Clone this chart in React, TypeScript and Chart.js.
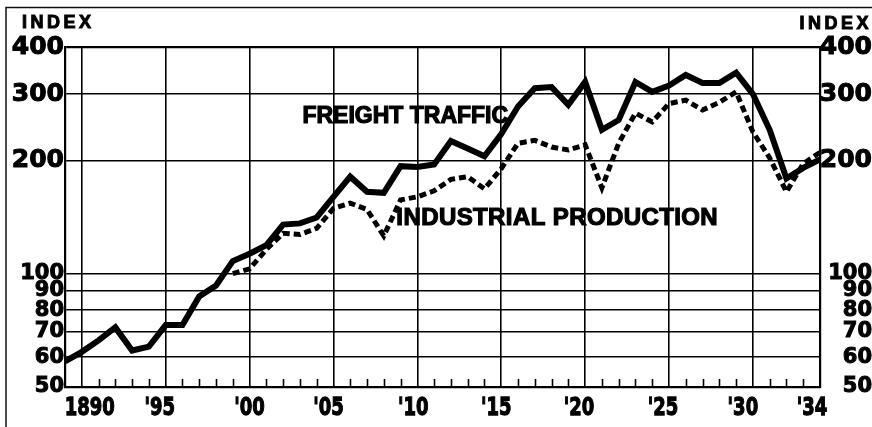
import React, { useEffect, useRef } from 'react';
import { Chart, registerables } from 'chart.js';

Chart.register(...registerables);

// ---------- data ----------
const years = [
  1889, 1890, 1891, 1892, 1893, 1894, 1895, 1896, 1897, 1898,
  1899, 1900, 1901, 1902, 1903, 1904, 1905, 1906, 1907, 1908,
  1909, 1910, 1911, 1912, 1913, 1914, 1915, 1916, 1917, 1918,
  1919, 1920, 1921, 1922, 1923, 1924, 1925, 1926, 1927, 1928,
  1929, 1930, 1931, 1932, 1933, 1934,
];

const freightTraffic = [
  58.5, 62, 66.5, 72, 62.5, 64, 73, 73, 87, 93,
  108, 113, 119, 135, 136, 141, 160, 181, 165, 164,
  193, 192, 195, 225, 215, 205, 235, 278, 311, 313,
  281, 323, 241, 256, 323, 304, 316, 337, 321, 321,
  342, 300, 241, 179, 191, 201,
];

const industrialProduction = [
  null, null, null, null, null, null, null, null, null, null,
  100, 103, 116, 128, 127, 132, 149, 154, 148, 126,
  157, 160, 166, 178, 181, 168, 190, 222, 226, 217,
  213, 220, 169, 222, 267, 253, 283, 289, 272, 285,
  304, 238, 203, 165, 196, 210,
];

const yTickValues = [50, 60, 70, 80, 90, 100, 200, 300, 400];
const xLabelYears = [1890, 1895, 1900, 1905, 1910, 1915, 1920, 1925, 1930, 1934];
const xLabelTexts = ['1890', "'95", "'00", "'05", "'10", "'15", "'20", "'25", "'30", "'34"];

const seriesLabels = ['FREIGHT TRAFFIC', 'INDUSTRIAL PRODUCTION'];
const axisTitle = 'INDEX';

// ---------- layout / styles ----------
// small horizontal nudges of the year labels (px), as in the hand-lettered original
const xLabelNudge = [8, -6, 0, -5, -4, -5, -6, -6, -10, -8];
// annotation anchors (in data units)
const freightLabelAt = { x: 1903.15, y: 262 };
const industrialLabelAt = { x: 1908.75, y: 140 };

const NUM_FONT = '"DejaVu Sans", "Liberation Sans", sans-serif';
const TXT_FONT = '"Liberation Sans", Arial, sans-serif';
const INK = '#000';

const decorPlugin = {
  id: 'decor',
  beforeDraw(chart: any) {
    const ctx = chart.ctx;
    ctx.save();
    ctx.strokeStyle = '#111';
    ctx.lineWidth = 1.5;
    ctx.beginPath();
    ctx.moveTo(6, 427);
    ctx.lineTo(6, 7.5);
    ctx.lineTo(872, 7.5);
    ctx.stroke();
    ctx.restore();
  },
  afterDatasetsDraw(chart: any) {
    const ctx = chart.ctx;
    const xs = chart.scales.x;
    const ys = chart.scales.y;
    const area = chart.chartArea;
    ctx.save();
    // minor year ticks (inward from bottom)
    ctx.strokeStyle = INK;
    ctx.lineWidth = 1.6;
    years.forEach((yr) => {
      if (yr === years[0] || yr === years[years.length - 1] || yr % 5 === 0) return;
      const px = Math.round(xs.getPixelForValue(yr)) + 0.5;
      ctx.beginPath();
      ctx.moveTo(px, area.bottom);
      ctx.lineTo(px, area.bottom - 8);
      ctx.stroke();
    });

    // series annotations
    ctx.fillStyle = INK;
    ctx.strokeStyle = INK;
    ctx.textBaseline = 'middle';
    ctx.textAlign = 'left';
    ctx.lineWidth = 1.2;
    ctx.font = `bold 23px ${TXT_FONT}`;
    (ctx as any).letterSpacing = '0px';
    let px = xs.getPixelForValue(freightLabelAt.x);
    let py = ys.getPixelForValue(freightLabelAt.y);
    ctx.fillText(seriesLabels[0], px, py);
    ctx.strokeText(seriesLabels[0], px, py);

    ctx.font = `bold 24px ${TXT_FONT}`;
    (ctx as any).letterSpacing = '0.4px';
    px = xs.getPixelForValue(industrialLabelAt.x);
    py = ys.getPixelForValue(industrialLabelAt.y);
    ctx.fillText(seriesLabels[1], px, py);
    ctx.strokeText(seriesLabels[1], px, py);
    ctx.restore();
  },
  afterDraw(chart: any) {
    const ctx = chart.ctx;
    const xs = chart.scales.x;
    const area = chart.chartArea;
    ctx.save();
    ctx.fillStyle = INK;
    ctx.strokeStyle = INK;

    // year labels (tall, condensed lettering)
    ctx.font = `bold 18px ${NUM_FONT}`;
    ctx.textAlign = 'center';
    ctx.textBaseline = 'middle';
    ctx.lineWidth = 0.9;
    xLabelYears.forEach((yr, i) => {
      const cx = xs.getPixelForValue(yr) + xLabelNudge[i];
      ctx.save();
      ctx.translate(cx, area.bottom + 21);
      ctx.scale(1, 1.4);
      ctx.fillText(xLabelTexts[i], 0, 0);
      ctx.strokeText(xLabelTexts[i], 0, 0);
      ctx.restore();
    });

    // INDEX titles
    ctx.lineWidth = 1;
    ctx.font = `bold 18px ${TXT_FONT}`;
    (ctx as any).letterSpacing = '3.5px';
    ctx.textBaseline = 'alphabetic';
    ctx.textAlign = 'left';
    ctx.fillText(axisTitle, 22, 28);
    ctx.strokeText(axisTitle, 22, 28);
    ctx.textAlign = 'right';
    ctx.fillText(axisTitle, 872, 29);
    ctx.strokeText(axisTitle, 872, 29);
    ctx.restore();
  },
};

const yTickFont = (c: any) => ({
  family: NUM_FONT,
  weight: 'bold' as const,
  size: c.tick && c.tick.value >= 200 ? 25 : 21,
});

export default function App() {
  const ref = useRef<HTMLCanvasElement>(null);

  useEffect(() => {
    if (!ref.current) return;
    const chart = new Chart(ref.current, {
      type: 'line',
      data: {
        datasets: [
          {
            label: seriesLabels[0],
            data: years.map((x, i) => ({ x, y: freightTraffic[i] })),
            borderColor: INK,
            borderWidth: 6,
            pointRadius: 0,
            tension: 0,
            fill: false,
            borderJoinStyle: 'miter',
          },
          {
            label: seriesLabels[1],
            data: years.map((x, i) => ({ x, y: industrialProduction[i] })) as any,
            borderColor: INK,
            borderWidth: 5,
            borderDash: [7, 4],
            borderCapStyle: 'butt',
            pointRadius: 0,
            tension: 0,
            fill: false,
            borderJoinStyle: 'miter',
          },
        ],
      },
      options: {
        animation: false,
        responsive: false,
        devicePixelRatio: 1,
        layout: { padding: { top: 47, left: 0, right: 0, bottom: 0 } },
        plugins: { legend: { display: false }, tooltip: { enabled: false } },
        scales: {
          x: {
            type: 'linear',
            min: years[0],
            max: years[years.length - 1],
            afterBuildTicks: (s: any) => {
              s.ticks = years.map((v) => ({ value: v }));
            },
            afterFit: (s: any) => {
              s.height = 40;
            },
            grid: {
              color: (c: any) => (c.tick && c.tick.value % 5 === 0 ? INK : 'rgba(0,0,0,0)'),
              lineWidth: 1.6,
              drawTicks: false,
            },
            border: { display: true, color: INK, width: 2.2 },
            ticks: {
              display: false,
              autoSkip: false,
              maxRotation: 0,
              minRotation: 0,
            },
          },
          y: {
            type: 'logarithmic',
            position: 'left',
            min: 50,
            max: 400,
            afterBuildTicks: (s: any) => {
              s.ticks = yTickValues.map((v) => ({ value: v }));
            },
            afterFit: (s: any) => {
              s.width = 65;
            },
            grid: {
              color: INK,
              lineWidth: (c: any) => (c.tick && c.tick.value === 400 ? 2.2 : 1.6),
              drawTicks: false,
            },
            border: { display: true, color: INK, width: 2.2 },
            ticks: {
              padding: 1,
              color: INK,
              textStrokeColor: INK,
              textStrokeWidth: 1,
              font: yTickFont as any,
              callback: (v: any) => String(v),
            },
          },
          y2: {
            type: 'logarithmic',
            position: 'right',
            min: 50,
            max: 400,
            afterBuildTicks: (s: any) => {
              s.ticks = yTickValues.map((v) => ({ value: v }));
            },
            afterFit: (s: any) => {
              s.width = 52;
            },
            grid: { drawOnChartArea: false, drawTicks: false },
            border: { display: true, color: INK, width: 2.2 },
            ticks: {
              padding: 1,
              crossAlign: 'far',
              color: INK,
              textStrokeColor: INK,
              textStrokeWidth: 1,
              font: yTickFont as any,
              callback: (v: any) => String(v),
            },
          },
        },
      },
      plugins: [decorPlugin],
    } as any);
    return () => chart.destroy();
  }, []);

  return (
    <div style={{ position: 'absolute', left: 0, top: 0, width: 872, height: 427, background: '#fff' }}>
      <canvas ref={ref} width={872} height={427} style={{ display: 'block', width: 872, height: 427 }} />
    </div>
  );
}
